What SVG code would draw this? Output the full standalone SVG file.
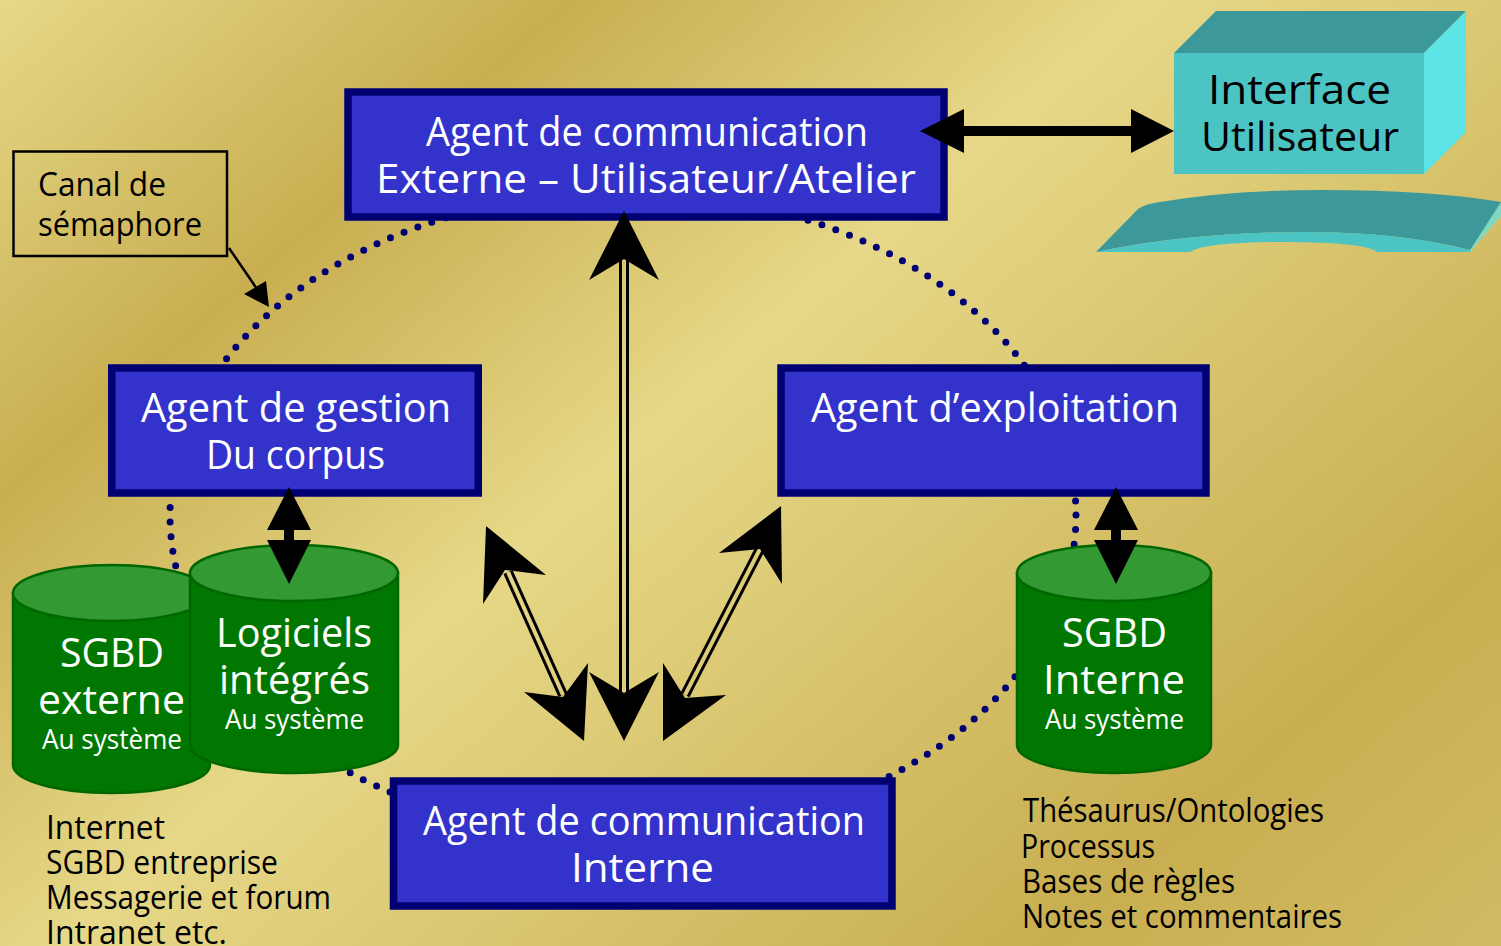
<svg xmlns="http://www.w3.org/2000/svg" width="1501" height="946" viewBox="0 0 1501 946">
<defs>
<linearGradient id="bg" gradientUnits="userSpaceOnUse" x1="0" y1="0" x2="1119" y2="1287">
<stop offset="0" stop-color="#e6d888"/><stop offset="0.22" stop-color="#c8ae50"/><stop offset="0.44" stop-color="#e6d888"/><stop offset="0.82" stop-color="#c8ae50"/><stop offset="1" stop-color="#d2bb64"/>
</linearGradient>
</defs>
<style>
.box{fill:#3333cc;stroke:#000073;stroke-width:7.500}
.cb{fill:#007700;stroke:#006600;stroke-width:2.500}
.ct{fill:#339933;stroke:#006600;stroke-width:2.500}
.dots{fill:none;stroke:#000073;stroke-width:7;stroke-linecap:round;stroke-dasharray:0 14.7}
.shaft{stroke:#000;stroke-width:10;fill:none}
.inner{stroke:url(#bg);stroke-width:4;fill:none}
.head{fill:#000}
text{font-family:"Open Sans","Noto Sans",sans-serif}
.w{fill:#fff;font-size:41px}
.s{fill:#fff;font-size:28px}
.k{fill:#000;font-size:41px}
.l{fill:#000;font-size:32px}
</style>
<rect width="1501" height="946" fill="url(#bg)"/>
<g id="connectors">
<ellipse class="dots" cx="623" cy="515" rx="453" ry="323"/>
</g>
<g id="node-sgbd-externe">
<path class="cb" d="M13 593V765A98.500 28 0 0 0 210 765V593Z"/>
<ellipse class="ct" cx="111.500" cy="593" rx="98.500" ry="28"/>
<text class="w" x="60" y="667" textLength="104" lengthAdjust="spacingAndGlyphs">SGBD</text>
<text class="w" x="38" y="714" textLength="147" lengthAdjust="spacingAndGlyphs">externe</text>
<text class="s" x="42" y="749" textLength="140" lengthAdjust="spacingAndGlyphs">Au système</text>
</g>
<g id="node-logiciels">
<path class="cb" d="M190 573V745A104 28 0 0 0 398 745V573Z"/>
<ellipse class="ct" cx="294" cy="573" rx="104" ry="28"/>
<text class="w" x="216" y="647" textLength="156" lengthAdjust="spacingAndGlyphs">Logiciels</text>
<text class="w" x="219" y="694" textLength="151" lengthAdjust="spacingAndGlyphs">intégrés</text>
<text class="s" x="225" y="729" textLength="139" lengthAdjust="spacingAndGlyphs">Au système</text>
</g>
<g id="node-sgbd-interne">
<path class="cb" d="M1017 573V745A97 28 0 0 0 1211 745V573Z"/>
<ellipse class="ct" cx="1114" cy="573" rx="97" ry="28"/>
<text class="w" x="1062" y="647" textLength="105" lengthAdjust="spacingAndGlyphs">SGBD</text>
<text class="w" x="1043" y="694" textLength="142" lengthAdjust="spacingAndGlyphs">Interne</text>
<text class="s" x="1045" y="729" textLength="139" lengthAdjust="spacingAndGlyphs">Au système</text>
</g>
<g id="node-agent-externe">
<rect class="box" x="348" y="92" width="596" height="125"/>
<text class="w" x="426" y="146" textLength="442" lengthAdjust="spacingAndGlyphs">Agent de communication</text>
<text class="w" x="376" y="193" textLength="540" lengthAdjust="spacingAndGlyphs">Externe – Utilisateur/Atelier</text>
</g>
<g id="node-agent-gestion">
<rect class="box" x="111.750" y="368" width="366.500" height="125"/>
<text class="w" x="141" y="422" textLength="310" lengthAdjust="spacingAndGlyphs">Agent de gestion</text>
<text class="w" x="206" y="469" textLength="179" lengthAdjust="spacingAndGlyphs">Du corpus</text>
</g>
<g id="node-agent-exploitation">
<rect class="box" x="781" y="368" width="425" height="125"/>
<text class="w" x="811" y="422" textLength="368" lengthAdjust="spacingAndGlyphs">Agent d’exploitation</text>
</g>
<g id="node-agent-interne">
<rect class="box" x="393.500" y="781" width="498.500" height="125"/>
<text class="w" x="423" y="835" textLength="442" lengthAdjust="spacingAndGlyphs">Agent de communication</text>
<text class="w" x="571" y="882" textLength="143" lengthAdjust="spacingAndGlyphs">Interne</text>
</g>
<g id="node-interface">
<path fill="#5ce4e4" opacity="0.7" d="M1501 202V216L1470 252H1464Z"/>
<path fill="#3d9999" d="M1096 252L1138 209Q1145 204 1160 202Q1230 190 1323 190Q1430 190 1501 202L1470 250Q1400 232 1307 232Q1190 232 1096 252Z"/>
<path fill="#4cc4c4" d="M1096 252Q1190 232 1307 232Q1400 232 1470 250V252H1377Q1365 242 1285 242Q1205 242 1190 252Z"/>
<polygon fill="#3d9999" points="1174,53 1216,11 1466,11 1424,53"/>
<polygon fill="#5ce4e4" points="1424,53 1466,11 1466,132 1424,174"/>
<rect fill="#4cc4c4" x="1174" y="53" width="250" height="121"/>
<text class="k" x="1208" y="104" textLength="183" lengthAdjust="spacingAndGlyphs">Interface</text>
<text class="k" x="1201" y="151" textLength="198" lengthAdjust="spacingAndGlyphs">Utilisateur</text>
</g>
<g id="node-canal">
<rect x="13.500" y="151.500" width="213.500" height="104.500" fill="none" stroke="#000" stroke-width="2.500"/>
<text fill="#000" style="font-size:33px" x="38" y="196" textLength="128" lengthAdjust="spacingAndGlyphs">Canal de</text>
<text fill="#000" style="font-size:33px" x="38" y="236" textLength="164" lengthAdjust="spacingAndGlyphs">sémaphore</text>
</g>
<g id="arrows">
<path class="shaft" d="M964 131H1131"/>
<polygon class="head" points="920,131 964,109 964,153"/>
<polygon class="head" points="1174,131 1131,109 1131,153"/>
<path class="shaft" d="M289 530V540"/>
<polygon class="head" points="289,487 267,530 311,530"/>
<polygon class="head" points="289,584 267,540 311,540"/>
<path class="shaft" d="M1116 530V540"/>
<polygon class="head" points="1116,487 1094,530 1138,530"/>
<polygon class="head" points="1116,584 1094,540 1138,540"/>
<path class="shaft" d="M624 259V693"/><path class="inner" d="M624 259V693"/>
<polygon class="head" points="624,211 589,280 624,259 659,280"/>
<polygon class="head" points="624,741 589,672 624,693 659,672"/>
<path class="shaft" d="M508 572L563 695"/><path class="inner" d="M508 572L563 695"/>
<polygon class="head" points="486,526 483,604 505,570 546,575"/>
<polygon class="head" points="584,741 588,663 563,697 524,692"/>
<path class="shaft" d="M760 549L685 695"/><path class="inner" d="M760 549L685 695"/>
<polygon class="head" points="781,506 719,553 760,549 782,584"/>
<polygon class="head" points="663,741 663,663 685,698 726,695"/>
<path d="M229 248L257 289" stroke="#000" stroke-width="2.500" fill="none"/>
<polygon class="head" points="269,307 244,294 266,281"/>
</g>
<g id="labels">
<text class="l" x="46" y="839" textLength="119" lengthAdjust="spacingAndGlyphs">Internet</text>
<text class="l" x="46" y="874" textLength="232" lengthAdjust="spacingAndGlyphs">SGBD entreprise</text>
<text class="l" x="46" y="909" textLength="285" lengthAdjust="spacingAndGlyphs">Messagerie et forum</text>
<text class="l" x="46" y="944" textLength="181" lengthAdjust="spacingAndGlyphs">Intranet etc.</text>
<text class="l" x="1023" y="822" textLength="301" lengthAdjust="spacingAndGlyphs">Thésaurus/Ontologies</text>
<text class="l" x="1021" y="858" textLength="134" lengthAdjust="spacingAndGlyphs">Processus</text>
<text class="l" x="1022" y="893" textLength="213" lengthAdjust="spacingAndGlyphs">Bases de règles</text>
<text class="l" x="1022" y="928" textLength="320" lengthAdjust="spacingAndGlyphs">Notes et commentaires</text>
</g>
</svg>
